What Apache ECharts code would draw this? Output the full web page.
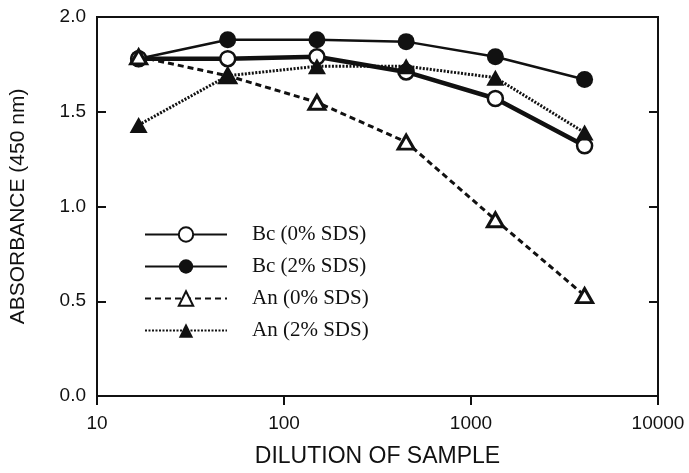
<!DOCTYPE html>
<html><head><meta charset="utf-8">
<script src="https://cdn.jsdelivr.net/npm/echarts@6/dist/echarts.min.js"></script>
<style>html,body{margin:0;padding:0;background:#fff}#c{width:689px;height:473px}</style>
</head><body><div id="c"></div>
<script>
const dilutions = [16.7, 50, 150, 450, 1350, 4050];
const bc0 = [1.78, 1.78, 1.79, 1.71, 1.57, 1.32];
const bc2 = [1.78, 1.88, 1.88, 1.87, 1.79, 1.67];
const an0 = [1.79, 1.69, 1.55, 1.34, 0.93, 0.53];
const an2 = [1.43, 1.69, 1.74, 1.74, 1.68, 1.39];
const names = ['Bc (0% SDS)', 'Bc (2% SDS)', 'An (0% SDS)', 'An (2% SDS)'];
const yTicks = ['0.0', '0.5', '1.0', '1.5', '2.0'];
const xTicks = ['10', '100', '1000', '10000'];

const pair = arr => arr.map((v, i) => [dilutions[i], v]);
const K = '#111';
const chart = echarts.init(document.getElementById('c'));
chart.setOption({
  backgroundColor: '#fff',
  animation: false,
  grid: { left: 97, right: 31, top: 17, bottom: 76, show: true, borderColor: K, borderWidth: 2 },
  legend: {
    data: names, orient: 'vertical', left: 139, top: 219,
    itemWidth: 82, itemHeight: 18, itemGap: 11,
    textStyle: { fontFamily: 'Liberation Serif', fontSize: 21, color: K, padding: [0, 0, 0, 20] }
  },
  xAxis: {
    type: 'log', logBase: 10, min: 10, max: 10000,
    name: 'DILUTION OF SAMPLE', nameLocation: 'middle', nameGap: 49,
    nameTextStyle: { fontFamily: 'Liberation Sans', fontSize: 23, color: K },
    axisLine: { lineStyle: { color: K, width: 2 } },
    axisTick: { show: true, length: 9, inside: false, lineStyle: { color: K, width: 2 } },
    minorTick: { show: false },
    splitLine: { show: false },
    axisLabel: { fontFamily: 'Liberation Sans', fontSize: 19, color: K, margin: 18,
      formatter: v => xTicks[Math.round(Math.log10(v)) - 1] }
  },
  yAxis: [{
    type: 'value', min: 0, max: 2, interval: 0.5,
    name: 'ABSORBANCE (450 nm)', nameLocation: 'middle', nameGap: 68,
    nameTextStyle: { fontFamily: 'Liberation Sans', fontSize: 21, color: K },
    axisLine: { show: true, lineStyle: { color: K, width: 2 } },
    axisTick: { show: true, inside: true, length: 9, lineStyle: { color: K, width: 2 } },
    splitLine: { show: false },
    axisLabel: { fontFamily: 'Liberation Sans', fontSize: 19, color: K, margin: 11,
      formatter: v => yTicks[Math.round(v / 0.5)] }
  }, {
    type: 'value', min: 0, max: 2, interval: 0.5, position: 'right',
    axisLine: { show: true, lineStyle: { color: K, width: 2 } },
    axisTick: { show: true, inside: true, length: 9, lineStyle: { color: K, width: 2 } },
    splitLine: { show: false }, axisLabel: { show: false }
  }],
  series: [
    { name: names[1], type: 'line', data: pair(bc2), symbol: 'circle', symbolSize: 17,
      lineStyle: { color: K, width: 2.5 }, itemStyle: { color: K, borderColor: K, borderWidth: 0 }, z: 2 },
    { name: names[0], type: 'line', data: pair(bc0), symbol: 'circle', symbolSize: 15,
      lineStyle: { color: K, width: 4.5 }, itemStyle: { color: '#fff', borderColor: K, borderWidth: 2.5 }, z: 3 },
    { name: names[2], type: 'line', data: pair(an0), symbol: 'triangle', symbolSize: [16, 14],
      lineStyle: { color: K, width: 3, type: [6, 4] }, itemStyle: { color: '#fff', borderColor: K, borderWidth: 3 }, z: 4 },
    { name: names[3], type: 'line', data: pair(an2), symbol: 'triangle', symbolSize: [18, 16],
      lineStyle: { color: K, width: 3, type: [2, 1.5] }, itemStyle: { color: K, borderColor: K, borderWidth: 0 }, z: 5 }
  ]
});
</script></body></html>
